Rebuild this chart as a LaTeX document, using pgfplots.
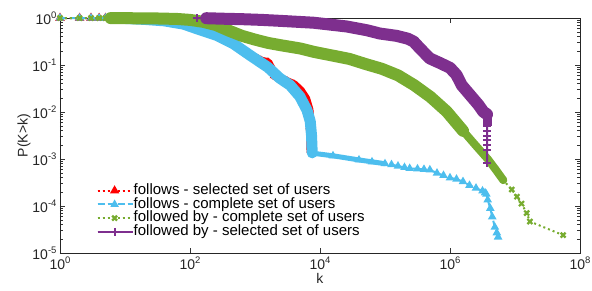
\documentclass[border=0pt]{standalone}
\usepackage{fontspec}
\setmainfont{Liberation Sans}
\usepackage{pgfplots}
\pgfplotsset{compat=1.18}
\usepackage{pgfplotstable}
\definecolor{cred}{RGB}{255,0,0}
\definecolor{cblue}{RGB}{77,190,238}
\definecolor{cgreen}{RGB}{119,172,48}
\definecolor{cpurple}{RGB}{126,47,142}
\newcommand{\sups}[1]{\raisebox{0.45em}{\fontsize{9.5}{9.5}\selectfont #1}}

\pgfplotstableread{
k P
1 1
2 0.999
3 0.998
4 0.997
5 0.996
6 0.995
7 0.993
8 0.991
9 0.99
10 0.9772
20 0.9333
39.8 0.871
79.4 0.7413
141 0.5623
257 0.4266
468 0.2818
832 0.1622
1259 0.1202
1585 0.1122
1995 0.0603
2399 0.0525
3162 0.0437
3981 0.0380
5012 0.0282
6026 0.0191
6761 0.0112
7079 0.00501
7244 0.00282
7244 0.00158
}\redtab

\pgfplotstableread{
k P
1 1
2 0.999
3 0.998
4 0.997
5 0.996
6 0.995
7 0.993
8 0.991
9 0.99
10 0.9772
20 0.9333
39.8 0.871
79.4 0.7413
141 0.5623
257 0.4266
468 0.2818
832 0.1622
1585 0.0891
2399 0.0525
3467 0.0372
4898 0.0214
6310 0.01096
7079 0.00631
7413 0.00316
7586 0.00135
7943 0.00132
15849 0.00117
39811 0.000955
63096 0.000871
1e5 0.000794
125893 0.000759
158489 0.000708
199526 0.000661
239883 0.000631
316228 0.000617
398107 0.000603
489779 0.000589
630957 0.000501
794328 0.000447
1e6 0.000398
1.259e6 0.000372
1.585e6 0.000331
1.995e6 0.000275
2.512e6 0.000240
3.162e6 0.000209
3.467e6 0.000191
3.631e6 0.000178
3.802e6 0.000135
4.169e6 8.91e-5
4.467e6 5.89e-5
4.898e6 3.55e-5
5.248e6 2.69e-5
5.495e6 2.19e-5
}\bluetab

\pgfplotstableread{
k P
1 1
2 0.999
3 0.998
4 0.997
5 0.996
6 0.995
7 0.994
8 0.993
9 0.992
10 0.99
20 0.985
31.6 0.977
63.1 0.955
100 0.912
158 0.832
251 0.708
398 0.537
631 0.417
1000 0.347
1585 0.295
2512 0.263
5012 0.224
7943 0.191
15849 0.158
28184 0.135
50119 0.105
89125 0.0832
158489 0.0603
281838 0.0372
501187 0.0209
891251 0.01023
1.585e6 0.00398
2.512e6 0.00191
3.802e6 0.001
5.012e6 0.000603
6.607e6 0.000355
8.913e6 0.000224
1.072e7 0.000158
1.259e7 0.000112
1.514e7 7.08e-5
1.698e7 4.68e-5
5.495e7 2.40e-5
}\greentab

\pgfplotstableread{
k P
126 1
178 0.99
316 0.9661
631 0.9441
1259 0.912
2399 0.871
7943 0.7943
25704 0.6607
52481 0.5495
83176 0.4677
151356 0.4169
223872 0.3631
275423 0.3162
346737 0.2239
489779 0.1380
707946 0.1096
1e6 0.0871
1.259e6 0.0617
1.514e6 0.0372
2.042e6 0.0229
2.754e6 0.0141
3.236e6 0.01023
3.715e6 0.00891
3.715e6 0.00794
3.715e6 0.00631
3.715e6 0.00501
3.715e6 0.00398
3.715e6 0.00316
3.715e6 0.00251
3.715e6 0.002
3.715e6 0.00158
3.715e6 0.000813
}\purpletab

\begin{document}
\begin{tikzpicture}
\begin{axis}[
  scale only axis,
  width=520pt, height=235pt,
  xmode=log, ymode=log,
  xmin=1, xmax=1e8, ymin=1e-5, ymax=1,
  clip=false, clip marker paths=true,
  xtick={1,100,1e4,1e6,1e8},
  xticklabels={10\sups{0},10\sups{2},10\sups{4},10\sups{6},10\sups{8}},
  ytick={1e-5,1e-4,1e-3,1e-2,1e-1,1},
  yticklabels={10\sups{-5},10\sups{-4},10\sups{-3},10\sups{-2},10\sups{-1},10\sups{0}},
  xminorticks=false,
  tick align=inside,
  major tick length=5pt, minor tick length=3pt,
  tick style={black!80, line width=0.6pt},
  axis line style={black!85, line width=0.6pt},
  tick label style={font=\fontsize{14}{14}\selectfont, text=black!85},
  xlabel={k}, ylabel={P(K>k)},
  label style={font=\fontsize{14}{14}\selectfont, text=black!85},
  xlabel style={yshift=3pt},
  ylabel style={yshift=-5pt},
  legend cell align=left,
  legend style={at={(0.07,0.295)}, anchor=north west, draw=none, fill=none,
    inner sep=0pt, row sep=0pt, column sep=0pt,
    font=\fontsize{15}{15}\selectfont,
    nodes={text height=10.5pt, text depth=3pt, inner sep=0.1pt}},
  legend image code/.code={\draw[mark repeat=2,mark phase=2,#1] plot coordinates {(0pt,0pt) (17pt,0pt) (34pt,0pt)}; \path (0pt,0pt) -- (35pt,0pt);},
]
% red
\addplot[forget plot, cred, line width=9pt, line cap=round, line join=round,
  skip coords between index={0}{5}] table[x=k,y=P] {\redtab};
\addplot[cred, line width=2pt, dash pattern=on 2pt off 3pt, mark=triangle*, mark size=3.5pt,
  mark options={solid, fill=cred, draw=cred}] table[x=k,y=P] {\redtab};
\addlegendentry{follows - selected set of users}
% blue
\addplot[forget plot, cblue, line width=11pt, line cap=round, line join=round,
  skip coords between index={0}{5}, skip coords between index={25}{53}] table[x=k,y=P] {\bluetab};
\addplot[forget plot, cblue, line width=5pt, line cap=round, line join=round,
  skip coords between index={0}{24}, skip coords between index={30}{53}] table[x=k,y=P] {\bluetab};
\addplot[cblue, line width=2pt, dash pattern=on 7pt off 3pt, mark=triangle*, mark size=3pt,
  mark options={solid, fill=cblue, draw=cblue}] table[x=k,y=P] {\bluetab};
\addlegendentry{follows - complete set of users}
% green
\addplot[forget plot, cgreen, line width=12pt, line cap=round, line join=round,
  skip coords between index={0}{5}, skip coords between index={32}{42}] table[x=k,y=P] {\greentab};
\addplot[forget plot, cgreen, line width=8pt, line cap=round, line join=round,
  skip coords between index={0}{31}, skip coords between index={36}{42}] table[x=k,y=P] {\greentab};
\addplot[cgreen, line width=2pt, dash pattern=on 2pt off 3pt, mark=x, mark size=3.5pt,
  mark options={solid, line width=2.2pt}] table[x=k,y=P] {\greentab};
\addlegendentry{followed by - complete set of users}
% purple
\addplot[forget plot, cpurple, line width=12pt, line cap=round, line join=round,
  skip coords between index={0}{1}, skip coords between index={23}{32}] table[x=k,y=P] {\purpletab};
\addplot[forget plot, cpurple, line width=9pt, line cap=butt, line join=round,
  skip coords between index={0}{22}, skip coords between index={26}{32}] table[x=k,y=P] {\purpletab};
\addplot[cpurple, line width=2pt, mark=+, mark size=4pt,
  mark options={solid, line width=2pt}] table[x=k,y=P] {\purpletab};
\addlegendentry{followed by - selected set of users}
\end{axis}
\pgfresetboundingbox
\path[use as bounding box] ([xshift=-60pt,yshift=-37pt]current axis.south west) rectangle ([xshift=12pt,yshift=18pt]current axis.north east);
\end{tikzpicture}
\end{document}
